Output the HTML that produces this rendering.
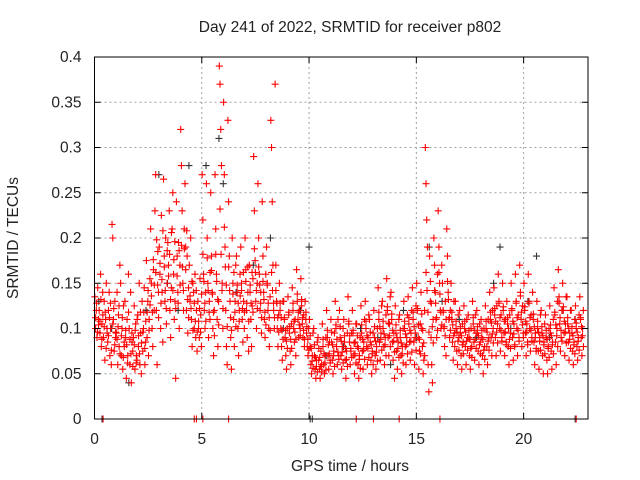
<!DOCTYPE html>
<html><head><meta charset="utf-8"><style>
body{margin:0;background:#fff}
svg{display:block;font-family:"Liberation Sans","DejaVu Sans",sans-serif}
</style></head><body>
<svg id="chart" width="640" height="480">
<rect width="640" height="480" fill="#fff"/>
<text x="350" y="32" font-size="15.5" text-anchor="middle" fill="#222">Day 241 of 2022, SRMTID for receiver p802</text>
<g id="grid"></g>
<g id="marks"></g>
<g id="axes"></g>
<text x="350" y="471" font-size="15.5" text-anchor="middle" fill="#222">GPS time / hours</text>
<text x="18" y="238" font-size="15.5" text-anchor="middle" fill="#222" transform="rotate(-90 18 238)">SRMTID / TECUs</text>
</svg>
<script>
const xTicks=[0,5,10,15,20];
const yTicks=[0,0.05,0.1,0.15,0.2,0.25,0.3,0.35,0.4];
const yTickLabels=["0","0.05","0.1","0.15","0.2","0.25","0.3","0.35","0.4"];
const binTimes=[];for(let i=0;i<114;i++)binTimes.push(+(0.1+0.2*i).toFixed(2));
const redVals=[
[135,100,120,90,145,110],[120,95,160,80,105,140],[90,130,65,110,150,100],[85,120,140,70,100,60],[215,200,110,75,130,90],
[95,140,60,115,80,170],[150,70,100,55,125,85],[130,90,45,110,70,160],[100,60,140,40,85,75],[90,125,55,105,70,65],
[115,80,150,60,95,50],[130,75,100,145,60,85],[175,90,130,70,110,155],[210,150,100,80,165,120],[230,270,120,60,185,140],
[190,160,100,225,140,85],[265,180,130,200,105,150],[195,170,230,120,90,145],[210,250,160,110,130,45],[240,180,140,195,100,170],
[320,280,230,150,120,210],[260,190,120,180,95,145],[170,130,200,110,80,150],[140,100,160,90,120,75],[130,100,90,155,115,80],
[270,220,160,120,100,140],[260,200,150,90,130,110],[250,180,140,100,70,120],[270,210,160,110,80,130],[390,370,320,280,150,100],
[350,270,190,120,80,60],[330,240,180,130,90,55],[200,150,110,80,130,170],[180,140,100,70,120,160],[190,150,110,85,130,100],
[200,165,120,90,140,75],[170,140,110,80,125,155],[290,230,175,130,100,150],[260,200,160,120,140,95],[240,180,140,110,90,160],
[190,150,120,100,80,135],[330,300,240,170,120,100],[370,170,130,100,80,115],[150,120,100,80,65,130],[130,110,90,70,55,100],
[135,115,95,75,60,105],[145,120,100,85,110,70],[165,130,110,90,120,100],[155,125,105,90,115,80],[130,110,95,80,70,100],
[110,80,60,50,70,95],[100,70,55,45,65,85],[90,65,55,45,75,60],[105,80,60,50,70,90],[120,90,70,55,85,65],
[110,85,65,50,75,95],[130,100,80,60,110,70],[120,90,70,55,80,100],[110,85,65,45,75,95],[135,105,85,60,75,95],
[120,95,70,50,85,105],[105,80,60,45,70,90],[125,95,75,55,85,110],[130,100,80,60,90,115],[110,85,65,50,75,95],
[120,90,70,55,80,100],[145,110,85,65,95,125],[130,100,80,60,90,115],[155,120,90,70,105,135],[140,110,85,65,95,45],
[125,95,75,55,85,110],[115,90,70,50,80,100],[130,100,80,60,90,115],[135,105,85,65,95,120],[145,110,85,60,95,125],
[150,120,90,55,75,105],[140,100,80,50,65,120],[300,260,220,190,60,30],[180,130,90,60,40,110],[200,170,140,110,90,160],
[230,190,150,120,100,170],[150,120,100,80,130,70],[210,180,140,110,90,120],[150,110,85,65,130,95],[130,100,75,60,115,90],
[120,95,70,55,105,85],[125,100,80,60,110,90],[115,90,70,55,100,80],[130,105,85,65,115,95],[120,95,75,60,105,85],
[110,90,70,50,100,80],[125,100,80,60,110,90],[140,110,90,70,120,100],[145,115,90,70,125,105],[160,130,100,75,115,90],
[150,120,95,70,110,85],[130,105,80,60,115,95],[150,120,90,65,105,80],[160,130,100,70,115,90],[170,140,110,80,125,95],
[150,120,95,70,105,85],[160,130,100,75,115,90],[140,110,85,60,95,75],[130,100,75,55,90,115],[120,95,70,50,85,105],
[115,90,65,50,80,100],[125,95,75,55,85,110],[145,115,85,60,100,130],[165,135,105,75,90,120],[150,120,95,70,105,135],
[135,105,85,65,95,120],[120,95,75,60,85,110],[125,100,80,65,90,115],[135,110,90,70,100,120]];
const redVals2=[
[112,128,96,104],[108,132,88,115],[102,118,78,95],[92,112,128,76],[105,122,82,96],
[88,102,125,72],[92,112,68,80],[98,82,62,118],[88,72,95,58],[82,98,62,110],
[92,72,118,84],[96,118,78,108],[118,142,98,126],[136,118,176,148],[162,198,148,112],
[172,128,154,208],[168,142,122,186],[158,182,132,206],[142,176,196,122],[158,128,186,148],
[192,168,142,188],[165,208,132,112],[136,122,152,98],[128,108,142,96],[108,122,96,138],
[182,152,128,108],[178,142,118,162],[164,138,118,92],[182,152,132,104],[232,182,142,122],
[212,168,148,102],[168,142,112,98],[138,162,118,102],[148,128,108,136],[142,122,162,118],
[152,128,168,108],[148,128,162,118],[188,162,142,122],[168,148,128,112],[152,132,118,104],
[148,128,112,98],[162,142,128,112],[142,128,112,96],[128,112,98,88],[112,98,86,78],
[118,102,88,78],[128,108,96,88],[138,118,104,92],[132,112,98,88],[118,102,88,76],
[92,78,64,56],[82,68,58,52],[78,68,58,52],[88,72,62,54],[98,82,72,62],
[96,82,70,58],[104,88,74,66],[102,86,74,62],[92,78,66,58],[108,92,78,68],
[98,84,72,62],[92,78,66,56],[104,88,76,66],[108,92,78,68],[96,82,72,60],
[102,86,74,64],[118,102,88,76],[108,94,82,70],[124,106,92,80],[116,98,86,74],
[104,90,78,68],[98,84,72,62],[108,94,82,72],[112,98,86,74],[118,102,90,76],
[122,104,88,72],[116,98,84,70],[162,142,118,96],[152,128,102,84],[142,128,112,98],
[162,138,118,104],[118,102,92,110],[152,132,112,98],[118,104,92,80],[108,96,86,76],
[102,92,82,72],[108,96,86,76],[98,88,78,68],[112,98,88,78],[102,92,82,72],
[98,88,76,66],[108,96,86,76],[118,106,94,84],[122,108,96,84],[128,112,98,86],
[124,108,96,82],[112,100,88,78],[122,108,94,82],[128,112,98,86],[136,118,104,90],
[124,108,96,82],[128,112,98,86],[116,102,90,78],[108,96,86,76],[102,92,82,72],
[98,88,78,68],[104,92,82,72],[118,104,92,80],[128,112,98,86],[124,108,96,84],
[112,100,88,78],[102,92,82,72],[106,96,86,76],[112,102,92,80]];
const blackTimes=[0.2,0.8,1.6,2.4,3.0,3.4,3.9,4.4,5.2,5.8,6.0,6.6,7.4,8.2,8.8,9.6,10.0,10.8,11.6,12.4,13.2,13.8,14.4,15.0,15.6,16.2,17.0,17.8,18.6,18.9,19.4,20.2,20.6,21.2,21.8,22.4];
const blackVals=[0.13,0.10,0.04,0.12,0.27,0.15,0.12,0.28,0.28,0.31,0.26,0.14,0.17,0.20,0.10,0.12,0.19,0.07,0.08,0.10,0.09,0.06,0.12,0.09,0.19,0.13,0.11,0.09,0.15,0.19,0.10,0.13,0.18,0.09,0.12,0.11];
const redZeros=[0.4,4.65,4.75,5.05,6.25,12.2,13.0,14.2,16.1,22.45];
const blackZeros=[0.35,10.05,10.15,22.4];

const X0=94.5,X1=588,Y0=419,Y1=57,XMAX=23,YMAX=0.4;
const xs=v=>X0+(X1-X0)*v/XMAX;
const ys=v=>Y0-(Y0-Y1)*v/YMAX;
const NS="http://www.w3.org/2000/svg";
function mk(tag,attrs,parent){const e=document.createElementNS(NS,tag);for(const k in attrs)e.setAttribute(k,attrs[k]);parent.appendChild(e);return e;}
const grid=document.getElementById('grid'),axes=document.getElementById('axes'),marks=document.getElementById('marks');
xTicks.forEach(t=>{const x=xs(t);
 if(t>0){const l=mk('line',{x1:x,x2:x,y1:Y1,y2:Y0,stroke:'#a0a0a0','stroke-dasharray':'2,3'},grid);}
 mk('line',{x1:x,x2:x,y1:Y0,y2:Y0-6,stroke:'#000'},axes);mk('line',{x1:x,x2:x,y1:Y1,y2:Y1+6,stroke:'#000'},axes);
 const tx=mk('text',{x:x,y:Y0+25,'font-size':15.5,'text-anchor':'middle',fill:'#222'},axes);tx.textContent=t;
 });
yTicks.forEach((t,i)=>{const y=ys(t);
 if(t>0&&t<YMAX){const l=mk('line',{x1:X0,x2:X1,y1:y,y2:y,stroke:'#a0a0a0','stroke-dasharray':'2,3'},grid);}
 mk('line',{x1:X0,x2:X0+6,y1:y,y2:y,stroke:'#000'},axes);mk('line',{x1:X1,x2:X1-6,y1:y,y2:y,stroke:'#000'},axes);
 const tx=mk('text',{x:X0-13,y:y+5,'font-size':15.5,'text-anchor':'end',fill:'#222'},axes);tx.textContent=yTickLabels[i];
 });
const fr=mk('rect',{x:X0,y:Y1,width:X1-X0,height:Y0-Y1,fill:'none',stroke:'#000','stroke-width':1},axes);

function plus(t,v,col){const x=xs(t),y=ys(v);
 const p=mk('path',{d:`M${x-3.5},${y}h7M${x},${y-3.5}v7`,stroke:col,'stroke-width':1.1,fill:'none'},marks);
 
 }
blackTimes.forEach((t,i)=>plus(t,blackVals[i],'#333'));
blackZeros.forEach(t=>plus(t,0,'#333'));
binTimes.forEach((t,i)=>{redVals[i].forEach((v,k)=>plus(t+(k-2.5)*0.033,v/1000,'red'));});
binTimes.forEach((t,i)=>{redVals2[i].forEach((v,k)=>plus(t+(k-1.5)*0.045+0.02,v/1000,'red'));});
redZeros.forEach(t=>plus(t,0,'red'));
</script>
</body></html>
